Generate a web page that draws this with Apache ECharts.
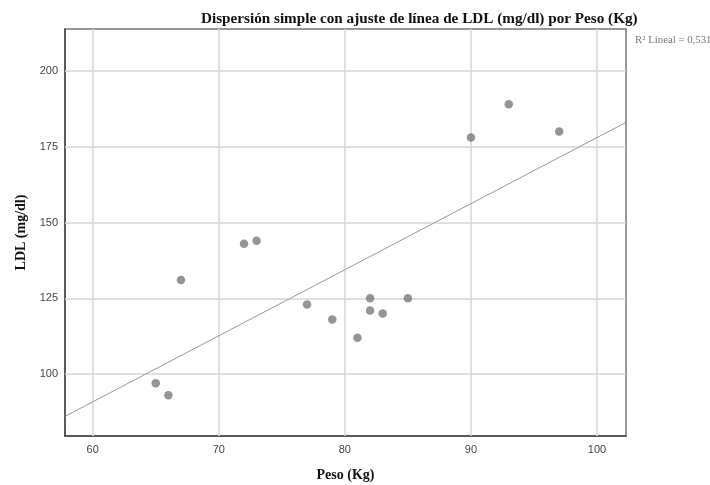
<!DOCTYPE html>
<html>
<head>
<meta charset="utf-8">
<script src="https://cdn.jsdelivr.net/npm/echarts@6/dist/echarts.min.js"></script>
<style>html,body{margin:0;padding:0;background:#fff}#c{width:710px;height:485px}</style>
</head>
<body>
<div id="c"></div>
<script>
var peso = [65, 66, 67, 72, 73, 77, 79, 81, 82, 82, 83, 85, 90, 93, 97];
var ldl  = [97, 93, 131, 143, 144, 123, 118, 112, 125, 121, 120, 125, 178, 189, 180];
var xTicks = [60, 70, 80, 90, 100];
var yTicks = [100, 125, 150, 175, 200];
var xRange = [57.8, 102.3];
var yRange = [79.6, 213.8];
var titleText = 'Dispersión simple con ajuste de línea de LDL (mg/dl) por Peso (Kg)';
var r2Text = 'R² Lineal = 0,531';

// least-squares fit from the data
var n = peso.length, mx = 0, my = 0;
for (var i = 0; i < n; i++) { mx += peso[i]; my += ldl[i]; }
mx /= n; my /= n;
var sxy = 0, sxx = 0;
for (var i = 0; i < n; i++) { sxy += (peso[i]-mx)*(ldl[i]-my); sxx += (peso[i]-mx)*(peso[i]-mx); }
var b = sxy / sxx, a = my - b * mx;
var fitLine = [[xRange[0], a + b*xRange[0]], [xRange[1], a + b*xRange[1]]];

var pts = peso.map(function (x, i) { return [x, ldl[i]]; });
var gridMarks = xTicks.map(function (v) { return {xAxis: v}; })
  .concat(yTicks.map(function (v) { return {yAxis: v}; }));

var chart = echarts.init(document.getElementById('c'));
chart.setOption({
  animation: false,
  title: [
    {text: titleText, left: 196, top: 7,
     textStyle: {fontFamily: 'Liberation Serif', fontWeight: 'bold', fontSize: 15.2, color: '#111'}},
    {text: r2Text, left: 630, top: 30,
     textStyle: {fontFamily: 'Liberation Serif', fontWeight: 'normal', fontSize: 10.8, color: '#777'}}
  ],
  grid: {left: 65, right: 84, top: 29, bottom: 49, show: true, borderColor: '#777', borderWidth: 1.5,
         backgroundColor: '#fff', outerBoundsMode: 'none', containLabel: false},
  xAxis: {
    type: 'value', min: xRange[0], max: xRange[1],
    name: 'Peso (Kg)', nameLocation: 'middle', nameGap: 32,
    nameTextStyle: {fontFamily: 'Liberation Serif', fontWeight: 'bold', fontSize: 14, color: '#111'},
    axisLine: {show: true, onZero: false, lineStyle: {color: '#444', width: 1.5}},
    axisTick: {show: false},
    splitLine: {show: false},
    axisLabel: {customValues: xTicks, color: '#444', fontFamily: 'Liberation Sans Narrow, Liberation Sans', fontSize: 11, margin: 8}
  },
  yAxis: {
    type: 'value', min: yRange[0], max: yRange[1],
    name: 'LDL (mg/dl)', nameLocation: 'middle', nameGap: 36, nameRotate: 90,
    nameTextStyle: {fontFamily: 'Liberation Serif', fontWeight: 'bold', fontSize: 14, color: '#111'},
    axisLine: {show: true, onZero: false, lineStyle: {color: '#444', width: 1.5}},
    axisTick: {show: false},
    splitLine: {show: false},
    axisLabel: {customValues: yTicks, color: '#444', fontFamily: 'Liberation Sans Narrow, Liberation Sans', fontSize: 11, margin: 7}
  },
  series: [
    {type: 'scatter', data: [], z: 1, silent: true,
     markLine: {silent: true, z: 1, symbol: 'none', label: {show: false}, animation: false,
       lineStyle: {color: '#d6d6d6', type: 'solid', width: 1.5}, data: gridMarks}},
    {type: 'line', data: fitLine, z: 2, symbol: 'none', silent: true,
     lineStyle: {color: '#999', width: 1}},
    {type: 'scatter', data: pts, z: 3, symbol: 'circle', symbolSize: 8.5,
     itemStyle: {color: '#7a7a7a'}}
  ]
});
</script>
</body>
</html>
